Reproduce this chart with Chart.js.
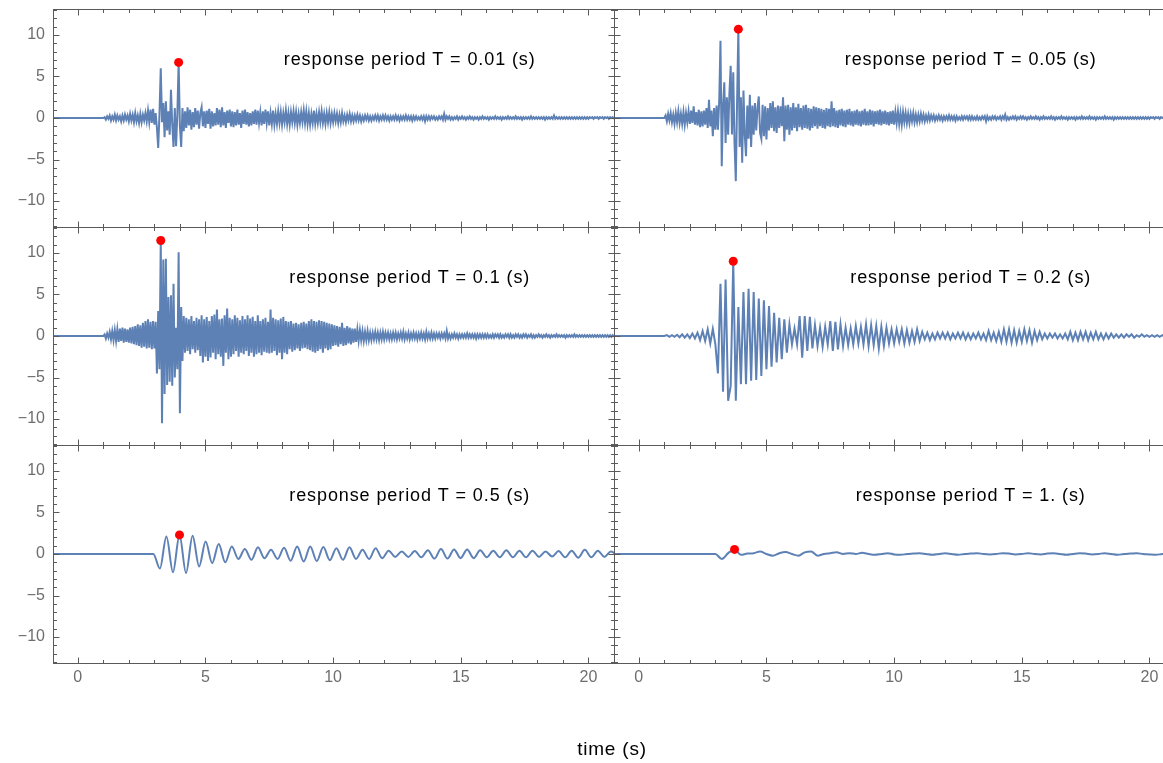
<!DOCTYPE html>
<html>
<head>
<meta charset="utf-8">
<title>Response time histories</title>
<script src="https://cdn.jsdelivr.net/npm/chart.js@4.4.1/dist/chart.umd.min.js"></script>
<style>
  html, body { margin: 0; padding: 0; background: #fff; }
  #wrap { position: relative; width: 1163px; height: 763px; overflow: hidden; }
  #wrap canvas { position: absolute; left: 0; top: -40px; }
  #timeLabel {
    position: absolute; left: 512px; width: 200px; top: 738px;
    text-align: center; color: #000;
    font: 19px "Liberation Sans", Arial, sans-serif; letter-spacing: 0.8px;
  }
</style>
</head>
<body>
<div id="wrap">
  <canvas id="panel0" width="1200" height="803"></canvas>
  <canvas id="panel1" width="1200" height="803"></canvas>
  <canvas id="panel2" width="1200" height="803"></canvas>
  <canvas id="panel3" width="1200" height="803"></canvas>
  <canvas id="panel4" width="1200" height="803"></canvas>
  <canvas id="panel5" width="1200" height="803"></canvas>
  <div id="timeLabel">time (s)</div>
</div>
<script>
// response periods, one panel each (row by row)
const periodLabels = ['0.01', '0.05', '0.1', '0.2', '0.5', '1.'];
const timeTicks = [0, 5, 10, 15, 20];
const responseTicks = [-10, -5, 0, 5, 10];

// each record is at rest from recordStart until its onset, then sampled every step
const recordStart = -1;
const onsetTimes = [1.0, 1.0, 1.0, 1.0, 2.96, 3.0];
const sampleSteps = [0.05, 0.05, 0.05, 0.1, 0.256, 0.25];

// T = 0.01 s
const resp001 = [
  0,.1,-.2,.2,-.1,.3,-.3,.2,-.2,.4,-.3,.3,-.2,.2,-.4,.3,-.3,.4,-.2,.3,
  -.4,.5,-.3,.4,-.5,.6,-.4,.3,-.6,.5,-.5,.4,-.3,.6,-.4,.9,-.5,1.0,-.6,1.1,
  -.8,.6,-1.2,-3.6,.5,6.0,-.5,1.8,-2.3,2.0,-1.5,.8,-2.0,3.4,-.8,-3.5,1.2,-3.4,.5,6.7,
  -1.0,-3.5,1.2,-1.6,.8,-1.2,1.3,-.9,1.0,-1.4,.7,-1.1,1.2,-.8,.9,-1.3,.6,1.3,-1.0,.8,
  -1.2,.9,-.7,1.1,-1.3,.8,-1.0,.6,-.9,1.2,-.8,1.0,-1.1,1.3,-.9,.7,-1.2,.9,-.6,1.0,
  -1.0,.8,-1.1,.7,-.9,1.0,-.8,.6,-1.2,.9,-.7,1.0,-.8,.7,-1.0,.6,-.9,.8,-.7,1.0,
  -.8,.9,-.6,.7,-.9,.8,-.7,1.0,-.6,.8,-.9,.6,-.7,.9,-.8,.5,-.7,.8,-.6,.7,
  -.8,.6,-.5,.9,-.7,.6,-.8,.7,-.5,.8,-.6,.7,-.8,.5,-.6,.7,-.5,.9,-.6,.8,
  -.7,.6,-.8,.5,-.6,.9,-.7,.5,-.6,.7,-.5,.8,-.6,.5,-.7,.6,-.5,.7,-.6,.5,
  -.5,.6,-.4,.5,-.6,.4,-.5,.6,-.4,.3,-.5,.4,-.3,.5,-.4,.3,-.4,.3,-.3,.4,
  -.3,.3,-.4,.2,-.3,.3,-.2,.3,-.3,.2,-.3,.2,-.2,.3,-.2,.3,-.3,.2,-.2,.3,
  -.2,.3,-.2,.2,-.3,.2,-.2,.2,-.2,.3,-.2,.2,-.3,.2,-.2,.2,-.2,.3,-.2,.2,
  -.2,.2,-.3,.2,-.2,.2,-.2,.1,-.2,.2,-.2,.2,-.4,.2,-.2,.2,-.2,.2,-.1,.2,
  -.2,.1,-.2,.2,-.1,.2,-.2,.5,-.2,.2,-.1,.2,-.2,.1,-.2,.1,-.1,.2,-.2,.1,
  -.1,.2,-.1,.1,-.2,.1,-.1,.2,-.1,.1,-.2,.1,-.1,.1,-.2,.1,-.1,.2,-.1,.1,
  -.1,.1,-.2,.1,-.1,.1,-.1,.2,-.1,.1,-.1,.1,-.2,.1,-.1,.1,-.1,.2,-.1,.1,
  -.1,.1,-.1,.2,-.1,.1,-.1,.1,-.2,.1,-.1,.1,-.1,.1,-.1,.2,-.1,.1,-.1,.1,
  -.1,.1,-.1,.1,-.1,.1,-.2,.1,-.1,.1,-.1,.1,-.1,.3,-.1,.1,-.1,.1,-.1,.1,
  -.1,.1,-.1,.1,-.1,.1,-.1,.1,-.1,.1,-.1,.1,-.1,.1,-.1,.1,-.1,.1,-.1,.1,
  -.1,.1,0,.1,-.1,.1,0,.1,-.1,.1,0,.1,-.1,.1,0,.1,-.1,.1,0,.1,
  -.1,.1
];

// T = 0.05 s
const resp005 = [
  0,.3,-.4,.5,-.3,.6,-.5,.4,-.7,.6,-.5,.8,-.6,.5,-.7,.7,-.8,.6,-.5,.8,
  -.7,.9,-.6,1.4,-.8,.7,-.9,1.0,-1.1,.8,-1.0,.9,-.8,1.2,-1.2,2.2,-1.0,.9,-2.2,1.2,
  -1.4,1.5,-1.4,2.0,9.3,-5.8,1.5,4.3,-3.0,2.5,-2.0,3.0,6.3,-2.0,5.5,-3.0,-7.6,2.0,10.7,-3.5,
  2.5,-5.4,3.3,-2.0,-4.6,1.5,-2.5,2.8,-3.5,1.5,-2.0,1.8,-1.5,1.2,2.6,-1.8,-2.5,1.6,-2.2,1.4,
  -2.6,1.2,-1.5,1.8,-1.2,2.0,-1.6,1.3,-1.8,1.5,-1.2,1.4,-1.0,2.5,-2.8,1.5,-1.4,1.6,-2.0,1.3,
  -1.5,1.8,-1.2,1.3,-1.6,1.7,-1.1,1.2,-1.4,1.5,-1.2,1.6,-1.3,1.2,-1.5,1.1,-1.2,1.4,-1.0,1.3,
  -1.3,1.2,-1.0,1.1,-1.2,1.0,-1.3,1.2,-1.0,1.1,-1.1,2.0,-1.0,1.2,-1.1,.9,-1.2,1.0,-.9,1.1,
  -1.0,.9,-1.1,1.0,-.8,1.1,-.9,.8,-1.0,.9,-.8,1.0,-.9,.8,-1.0,.9,-.8,1.1,-.9,.8,
  -.9,1.0,-.8,.9,-1.0,.8,-.7,.9,-.8,1.0,-.9,.8,-.7,.9,-.8,.7,-.9,.8,-.7,.9,
  -.8,.7,-.6,.8,-.7,.6,-.8,.7,-.5,.6,-.6,.5,-.6,.5,-.4,.6,-.5,.4,-.5,.4,
  -.4,.5,-.3,.4,-.4,.3,-.3,.4,-.3,.3,-.2,.3,-.3,.2,-.2,.3,-.2,.2,-.3,.2,
  -.2,.2,-.2,.3,-.2,.2,-.2,.2,-.3,.2,-.2,.1,-.2,.2,-.2,.2,-.1,.2,-.2,.2,
  -.2,.2,-.2,.1,-.2,.2,-.2,.1,-.2,.2,-.1,.2,-.4,.2,-.2,.1,-.2,.2,-.1,.2,
  -.2,.1,-.1,.2,-.2,.2,-.1,.4,-.2,.1,-.2,.1,-.1,.2,-.1,.2,-.2,.1,-.1,.2,
  -.1,.2,-.1,.1,-.2,.1,-.1,.2,-.1,.1,-.1,.2,-.1,.1,-.2,.1,-.1,.2,-.1,.1,
  -.1,.1,-.1,.2,-.1,.1,-.2,.1,-.1,.1,-.1,.2,-.1,.1,-.1,.1,-.2,.1,-.1,.1,
  -.1,.1,-.2,.1,-.1,.1,-.1,.2,-.1,.1,-.1,.1,-.1,.2,-.1,.1,-.1,.1,-.2,.1,
  -.1,.1,-.1,.1,-.1,.2,-.1,.1,-.1,.1,-.1,.1,-.2,.1,-.1,.1,-.1,.1,-.1,.1,
  -.1,.1,-.1,.1,-.1,.1,-.1,.1,-.1,.1,-.1,.1,-.1,.1,-.1,.1,-.1,.1,-.1,.1,
  -.1,.1,0,.1,-.1,.1,0,.1,-.1,.1,0,.1,-.1,.1,0,.1,-.1,.1,0,.1,
  -.1,.1
];

// T = 0.1 s
const resp01 = [
  0,.2,-.3,.3,-.2,.5,-.4,.6,-.5,.7,-.6,.8,-.7,.9,-.6,1.0,-.8,.9,-.7,.8,
  -.8,1.0,-.9,1.1,-1.0,1.2,-1.1,1.4,-1.2,1.3,-1.4,1.6,-1.3,1.8,-1.5,2.0,-1.4,1.7,-1.6,1.8,
  -1.5,1.7,-4.5,3.0,-4.0,11.5,-10.5,9.2,-7.0,9.3,-5.9,4.7,-5.5,4.9,-6.0,6.3,-5.0,1.0,-4.0,10.1,
  -9.3,3.5,-3.0,2.4,-2.0,2.2,-1.8,2.0,-2.2,2.4,-1.6,1.8,-2.0,2.2,-1.7,2.0,-2.4,2.5,-3.2,2.0,
  -2.5,2.3,-3.0,1.8,-2.6,2.4,-2.0,2.6,-2.8,3.2,-2.2,2.0,-2.5,2.1,-3.6,2.5,-2.0,3.3,-2.8,2.2,
  -2.5,2.0,-2.2,2.5,-1.8,2.2,-2.5,1.9,-2.0,2.4,-2.2,2.0,-1.8,2.5,-2.4,2.1,-2.0,2.3,-2.5,1.8,
  -2.2,2.5,-2.0,1.8,-2.3,2.0,-1.9,2.2,-2.0,1.7,-2.1,3.2,-2.0,2.2,-1.8,2.0,-2.3,1.9,-2.0,2.1,
  -2.8,2.3,-2.0,1.8,-2.2,1.7,-1.6,1.8,-1.9,1.5,-1.7,1.6,-1.5,1.4,-1.8,1.6,-1.5,1.7,-1.4,1.5,
  -1.6,1.8,-1.7,2.0,-1.9,1.8,-2.0,1.7,-1.8,1.9,-1.6,1.8,-2.0,1.7,-1.5,1.6,-1.7,1.5,-1.6,1.4,
  -1.2,1.3,-1.1,1.2,-1.3,1.1,-1.0,1.6,-1.2,1.0,-1.1,1.2,-.9,1.0,-1.0,.9,-.8,.9,-.7,.8,
  -.6,.7,-.5,.6,-.6,.5,-.5,.6,-.5,.4,-.5,.4,-.4,.5,-.4,.4,-.5,.4,-.4,.5,
  -.4,.4,-.3,.4,-.4,.3,-.4,.4,-.3,.4,-.4,.3,-.3,.4,-.3,.5,-.4,.3,-.3,.4,
  -.4,.3,-.3,.4,-.3,.3,-.4,.3,-.3,.4,-.3,.3,-.4,.5,-.3,.3,-.3,.4,-.3,.3,
  -.3,.3,-.2,.3,-.3,.3,-.2,.3,-.3,.6,-.3,.2,-.3,.2,-.2,.3,-.2,.2,-.3,.2,
  -.2,.2,-.2,.2,-.2,.3,-.2,.2,-.2,.2,-.2,.2,-.3,.2,-.2,.2,-.2,.2,-.2,.2,
  -.2,.2,-.2,.1,-.2,.2,-.2,.2,-.1,.2,-.2,.2,-.2,.1,-.2,.2,-.1,.2,-.2,.2,
  -.2,.1,-.2,.2,-.1,.2,-.2,.1,-.2,.2,-.1,.2,-.2,.1,-.1,.2,-.2,.1,-.2,.1,
  -.1,.2,-.1,.1,-.2,.1,-.1,.2,-.1,.1,-.2,.1,-.1,.1,-.1,.2,-.1,.1,-.1,.1,
  -.1,.1,-.2,.1,-.1,.1,-.1,.1,-.1,.2,-.1,.1,-.1,.1,-.1,.1,-.1,.1,-.1,.1,
  -.1,.1,-.1,.1,-.1,.1,-.1,.1,-.1,.1,-.1,.1,-.1,.1,-.1,.1,-.1,.1,-.1,.1,
  -.1,.1
];

// T = 0.2 s (one value per half cycle)
const resp02 = [
  0,.1,-.1,.1,-.1,.15,-.15,.2,-.2,.2,
  -.25,.3,-.3,.4,-.5,.6,-.6,.8,-.9,.85,
  -1.0,-4.5,6.3,-6.7,6.8,-7.8,-6.0,9.0,-7.8,3.5,
  -5.8,5.3,-5.8,5.7,-5.4,5.3,-5.3,4.5,-4.8,4.3,
  -4.0,3.6,-3.7,2.8,-3.2,2.2,-2.8,2.0,-2.0,1.4,
  -1.0,.9,-1.0,2.4,-2.6,2.4,-1.8,2.3,-1.5,1.3,
  -1.2,1.0,-1.3,1.1,-1.0,1.8,-1.8,1.7,-1.6,1.4,
  -1.2,1.0,-1.1,.9,-1.0,1.2,-.9,1.1,-1.0,1.4,
  -1.2,1.3,-1.1,1.2,-1.5,1.1,-1.2,1.0,-.9,.8,
  -.9,.8,-.7,.8,-.9,.7,-.8,.6,-.7,.8,
  -.6,.5,-.4,.4,-.5,.3,-.4,.4,-.3,.4,
  -.3,.4,-.4,.3,-.3,.4,-.3,.4,-.4,.3,
  -.4,.3,-.3,.4,-.4,.3,-.5,.6,-.5,.4,
  -.6,.5,-.7,.8,-.7,.8,-.8,.7,-.8,.6,
  -.7,.8,-.6,.7,-.8,.6,-.5,.5,-.4,.3,
  -.3,.3,-.2,.3,-.3,.2,-.3,.3,-.4,.5,
  -.5,.4,-.5,.5,-.4,.5,-.5,.4,-.4,.5,
  -.4,.3,-.4,.3,-.3,.3,-.2,.2,-.2,.2,
  -.2,.2,-.1,.2,-.2,.1,-.1,.2,-.1,.1,
  -.1,.1,-.1,.1,-.1,.1,-.1,.1,-.1,.1,
  -.1
];

// T = 0.5 s (peaks and troughs)
const resp05 = [
  0,-1.75,2.1,-2.2,2.3,-2.3,2.2,-1.5,1.5,-1.1,
  1.2,-1.0,.9,-.6,.6,-.7,.8,-.5,.5,-.6,
  .75,-.8,.9,-.9,.9,-.85,.85,-.75,.7,-.7,
  .8,-.6,.5,-.6,.7,-.5,.4,-.35,.3,-.35,
  .35,-.4,.45,-.55,.6,-.55,.55,-.5,.55,-.5,
  .45,-.4,.4,-.4,.45,-.4,.4,-.4,.4,-.35,
  .3,-.3,.35,-.4,.4,-.45,.5,-.4,.4,-.35,
  .3,-.2
];

// T = 1 s
const resp10 = [
  0,-.6,.1,.55,-.1,.05,.1,.3,0,-.2,
  .1,.25,0,-.2,.2,.3,-.2,0,.1,.2,
  0,.1,0,.15,0,-.1,0,.1,-.05,-.1,
  0,.05,.1,0,-.1,0,.1,0,-.1,0,
  .05,.1,0,-.05,0,.1,.05,-.05,0,.1,
  0,-.05,.05,.1,0,-.1,0,.1,.05,-.05,
  0,.1,0,-.1,0,.05,.1,0,-.05,-.1,
  0,.05
];

const responses = [resp001, resp005, resp01, resp02, resp05, resp10];

// canvases sit 40px above the page so the top labels never squeeze the plot
const CANVAS_W = 1200, CANVAS_H = 803, CANVAS_SHIFT = 40;
const colLeft = [53, 614];
const rowTop = [9, 227, 445];
const plotW = 561, plotH = 218;
const yAxisW = 53, xAxisH = 30;
const timeRange = [-0.97, 21.0];
const respRange = [-13.13, 13.13];

Chart.defaults.font.family = '"Liberation Sans", Arial, sans-serif';

// frame with inward ticks on all four sides, plus the panel caption
const framePlugin = {
  id: 'panelFrame',
  afterDatasetsDraw(chart, args, opts) {
    const { ctx, chartArea: a, scales: { x, y } } = chart;
    ctx.save();
    ctx.strokeStyle = '#5a5a5a';
    ctx.lineWidth = 1;
    const L = Math.round(a.left) + 0.5, R = Math.round(a.right) + 0.5;
    const T = Math.round(a.top) + 0.5, B = Math.round(a.bottom) + 0.5;
    ctx.strokeRect(L, T, R - L, B - T);
    ctx.beginPath();
    for (let t = Math.ceil(x.min); t <= x.max; t++) {
      const px = Math.round(x.getPixelForValue(t)) + 0.5;
      const len = t % 5 === 0 ? 6 : 3.5;
      ctx.moveTo(px, T); ctx.lineTo(px, T + len);
      ctx.moveTo(px, B); ctx.lineTo(px, B - len);
    }
    for (let v = Math.ceil(y.min); v <= y.max; v++) {
      const py = Math.round(y.getPixelForValue(v)) + 0.5;
      const len = v % 5 === 0 ? 6 : 3.5;
      ctx.moveTo(L, py); ctx.lineTo(L + len, py);
      ctx.moveTo(R, py); ctx.lineTo(R - len, py);
    }
    ctx.stroke();

    ctx.fillStyle = '#000';
    ctx.font = '18px "Liberation Sans", Arial, sans-serif';
    ctx.letterSpacing = '0.9px';
    ctx.textAlign = 'center';
    ctx.textBaseline = 'middle';
    ctx.fillText(opts.caption, x.getPixelForValue(13), y.getPixelForValue(7));
    ctx.restore();
  }
};

function fmtTick(v) {
  return v < 0 ? '\u2212' + Math.abs(v) : String(v);
}

responses.forEach((values, i) => {
  const row = Math.floor(i / 2), col = i % 2;
  const onset = onsetTimes[i], step = sampleSteps[i];

  const points = [{ x: recordStart, y: 0 }].concat(
    values.map((v, k) => ({ x: onset + k * step, y: v }))
  );
  // the largest response is marked with a dot
  let peak = points[0];
  points.forEach(p => { if (p.y > peak.y) peak = p; });

  const bottomRow = row === 2, leftCol = col === 0;
  const top = rowTop[row] + CANVAS_SHIFT;

  new Chart(document.getElementById('panel' + i), {
    type: 'line',
    data: {
      datasets: [
        {
          data: [peak],
          showLine: false,
          pointRadius: 4.5,
          pointHoverRadius: 4.5,
          pointBackgroundColor: '#ff0000',
          pointBorderWidth: 0,
          clip: false
        },
        {
          data: points,
          borderColor: '#5e81b5',
          borderWidth: 2,
          pointRadius: 0,
          tension: 0,
          cubicInterpolationMode: i >= 4 ? 'monotone' : 'default',
          fill: false
        }
      ]
    },
    options: {
      responsive: false,
      animation: false,
      events: [],
      layout: {
        padding: {
          left: leftCol ? 0 : colLeft[1],
          right: CANVAS_W - colLeft[col] - plotW,
          top: top,
          bottom: CANVAS_H - top - plotH - (bottomRow ? xAxisH : 0)
        }
      },
      scales: {
        x: {
          type: 'linear',
          min: timeRange[0],
          max: timeRange[1],
          grid: { display: false, drawTicks: false },
          border: { display: false },
          afterBuildTicks: s => { s.ticks = timeTicks.map(v => ({ value: v })); },
          afterFit: s => { s.height = bottomRow ? xAxisH : 0; },
          ticks: {
            display: bottomRow,
            includeBounds: false,
            maxRotation: 0,
            padding: 5,
            color: '#6e6e6e',
            font: { size: 16 },
            callback: fmtTick
          }
        },
        y: {
          type: 'linear',
          min: respRange[0],
          max: respRange[1],
          grid: { display: false, drawTicks: false },
          border: { display: false },
          afterBuildTicks: s => { s.ticks = responseTicks.map(v => ({ value: v })); },
          afterFit: s => { s.width = leftCol ? yAxisW : 0; },
          ticks: {
            display: leftCol,
            includeBounds: false,
            padding: 8,
            color: '#6e6e6e',
            font: { size: 16 },
            callback: fmtTick
          }
        }
      },
      plugins: {
        legend: { display: false },
        tooltip: { enabled: false },
        panelFrame: { caption: 'response period T = ' + periodLabels[i] + ' (s)' }
      }
    },
    plugins: [framePlugin]
  });
});
</script>
</body>
</html>
